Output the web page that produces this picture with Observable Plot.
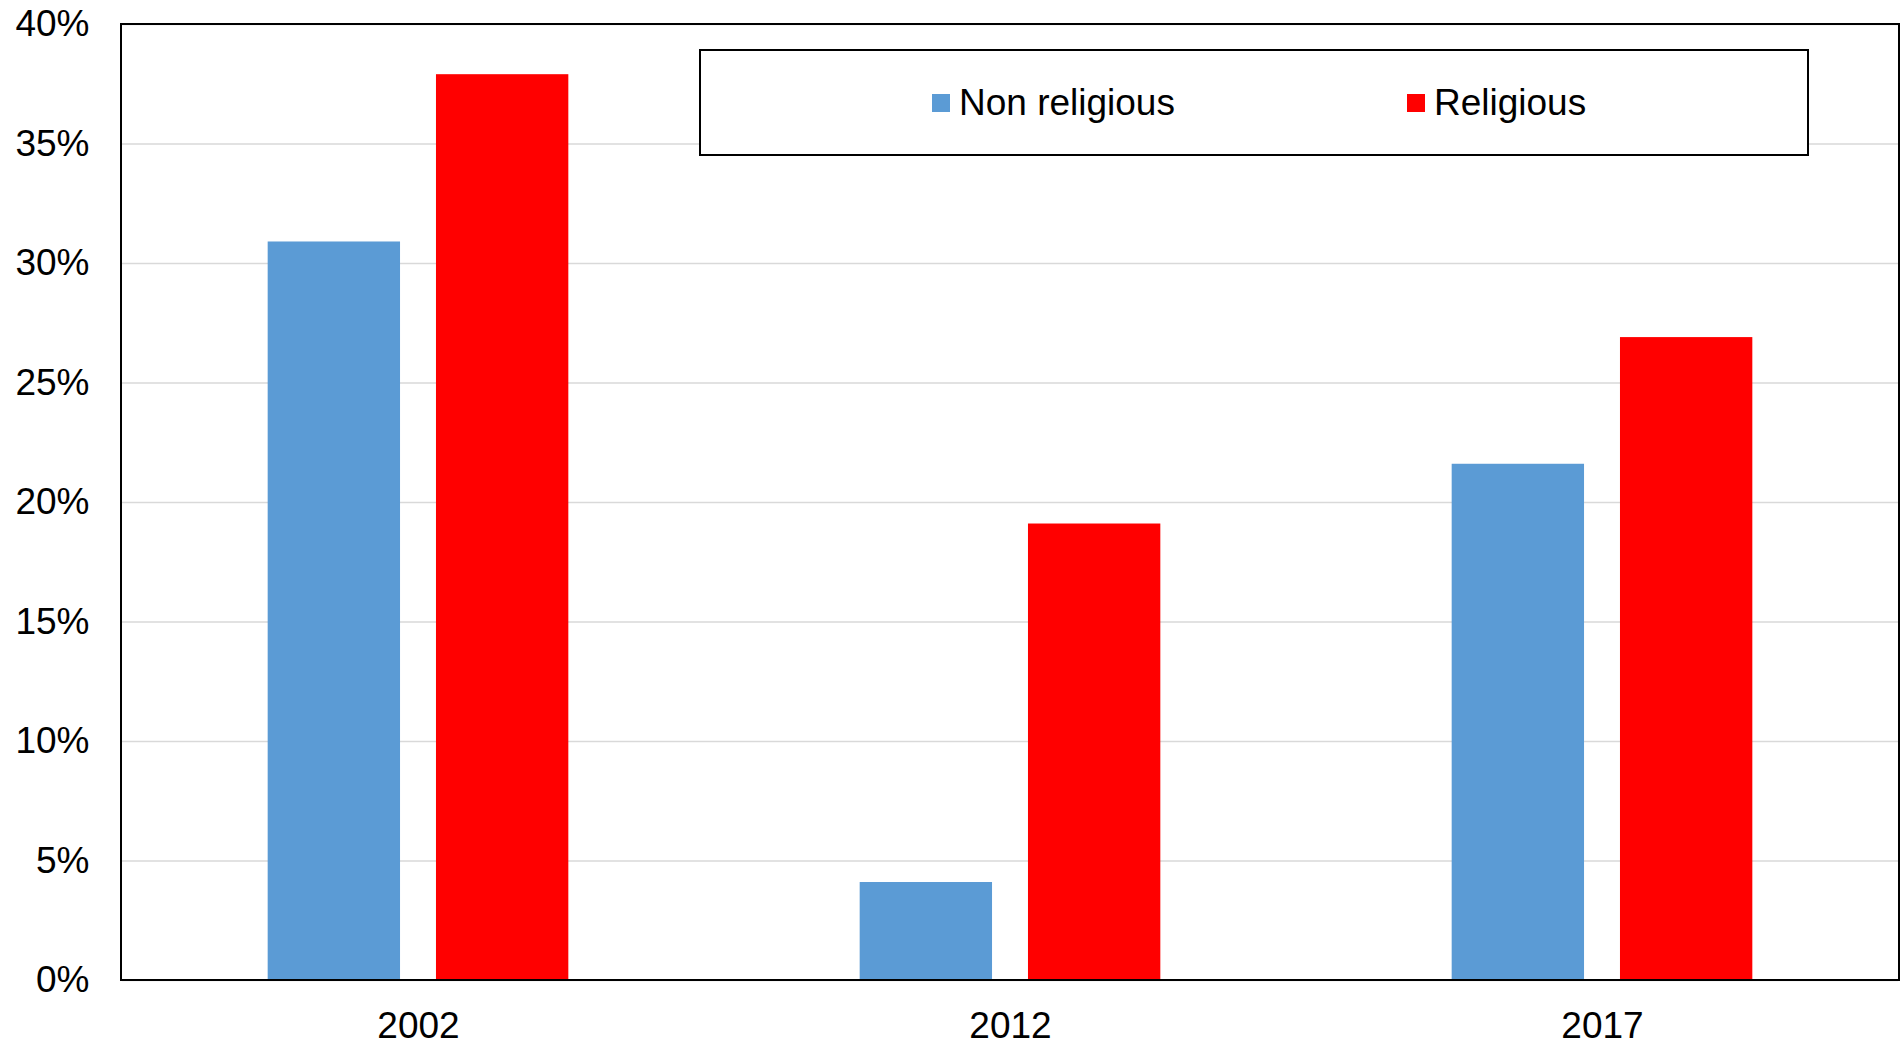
<!DOCTYPE html>
<html>
<head>
<meta charset="utf-8">
<script src="https://cdn.jsdelivr.net/npm/d3@7"></script>
<script src="https://cdn.jsdelivr.net/npm/@observablehq/plot@0.6"></script>
<style>
  html, body { margin: 0; padding: 0; background: #fff; overflow: hidden; }
  #wrap { position: relative; width: 1901px; height: 1042px; font-family: "Liberation Sans", Arial, sans-serif; }
  #wrap svg { display: block; }
  #legend {
    position: absolute; left: 699px; top: 49px; width: 1106px; height: 103px;
    border: 2px solid #000; background: #fff; box-sizing: content-box;
    font-size: 37px; color: #000;
  }
  .item { position: absolute; top: 0; height: 103px; display: flex; align-items: center; white-space: nowrap; }
  .sw { width: 18px; height: 18px; margin-right: 9px; }
</style>
</head>
<body>
<div id="wrap"></div>
<script>
const years = ["2002", "2012", "2017"];
const series = ["Non religious", "Religious"];
const nonReligious = [30.9, 4.1, 21.6];
const religious = [37.9, 19.1, 26.9];
const colors = ["#5B9BD5", "#FF0000"];
const yTicks = [0, 5, 10, 15, 20, 25, 30, 35, 40];

const data = years.flatMap((yr, i) => [
  {year: yr, series: series[0], value: nonReligious[i]},
  {year: yr, series: series[1], value: religious[i]}
]);

const plot = Plot.plot({
  width: 1901,
  height: 1042,
  marginLeft: 121,
  marginRight: 2,
  marginTop: 24,
  marginBottom: 62,
  style: {fontFamily: "'Liberation Sans', Arial, sans-serif", fontSize: "37px", background: "#fff", color: "#000", overflow: "visible"},
  facet: {data, x: "year"},
  fx: {domain: years, padding: 0, label: null, axis: "bottom", tickSize: 0, tickPadding: 31},
  x: {domain: series, paddingInner: 0.2136, paddingOuter: 0.8656, round: false, axis: null},
  y: {domain: [0, 40], ticks: yTicks, tickFormat: d => d + "%", label: null, tickSize: 0, tickPadding: 33},
  color: {domain: series, range: colors},
  marks: [
    Plot.ruleY(yTicks, {stroke: "#d9d9d9", strokeWidth: 1.5}),
    Plot.barY(data, {x: "series", y: "value", fill: "series"})
  ]
});

// Plot-area border drawn from the plot's own scales
const fx = plot.scale("fx");
const y = plot.scale("y");
const x0 = Math.min(...fx.range), x1 = Math.max(...fx.range);
const y0 = Math.min(...y.range), y1 = Math.max(...y.range);
d3.select(plot).append("rect")
  .attr("x", x0).attr("y", y0)
  .attr("width", x1 - x0).attr("height", y1 - y0)
  .attr("fill", "none").attr("stroke", "#000").attr("stroke-width", 2);

const wrap = document.getElementById("wrap");
wrap.appendChild(plot);

const legend = document.createElement("div");
legend.id = "legend";
const itemLefts = [231, 706];
series.forEach((s, i) => {
  const it = document.createElement("div");
  it.className = "item";
  it.style.left = itemLefts[i] + "px";
  const sw = document.createElement("span");
  sw.className = "sw";
  sw.style.background = colors[i];
  const tx = document.createElement("span");
  tx.textContent = s;
  it.appendChild(sw);
  it.appendChild(tx);
  legend.appendChild(it);
});
wrap.appendChild(legend);
</script>
</body>
</html>
